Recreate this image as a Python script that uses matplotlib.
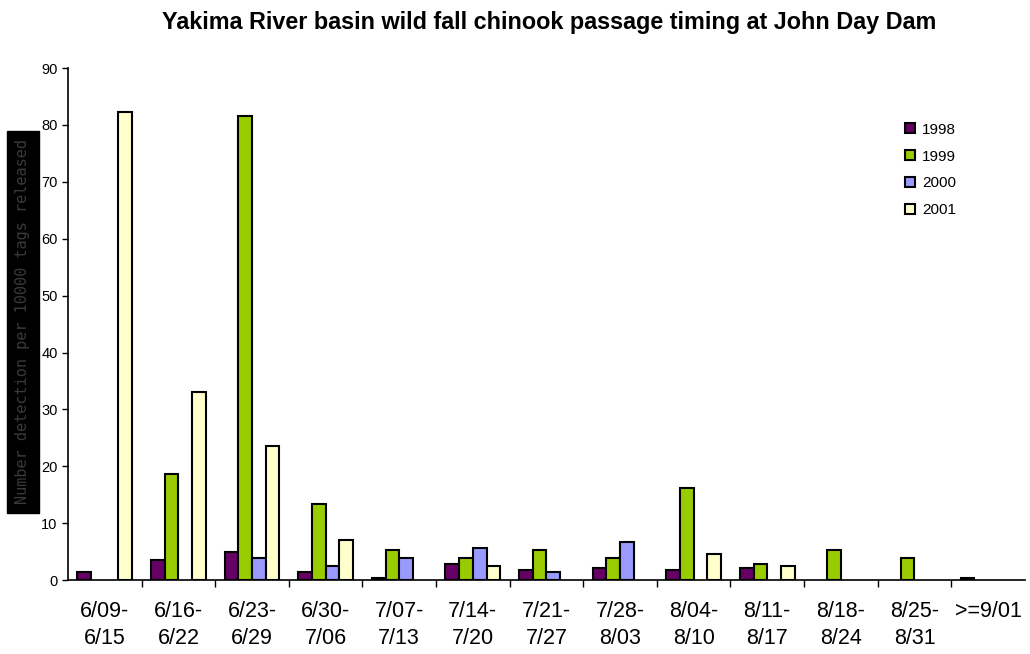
import matplotlib
matplotlib.use("Agg")
import matplotlib.pyplot as plt
import numpy as np

plt.rcParams['font.family'] = ['Liberation Sans', 'DejaVu Sans']

categories = ["6/09-\n6/15", "6/16-\n6/22", "6/23-\n6/29", "6/30-\n7/06", "7/07-\n7/13",
              "7/14-\n7/20", "7/21-\n7/27", "7/28-\n8/03", "8/04-\n8/10", "8/11-\n8/17",
              "8/18-\n8/24", "8/25-\n8/31", ">=9/01"]
series_names = ["1998", "1999", "2000", "2001"]
v1998 = [1.4, 3.5, 4.9, 1.4, 0.4, 2.8, 1.8, 2.2, 1.8, 2.2, 0, 0, 0.4]
v1999 = [0, 18.6, 81.5, 13.4, 5.3, 3.9, 5.3, 3.9, 16.2, 2.8, 5.3, 3.9, 0]
v2000 = [0, 0, 3.9, 2.4, 3.9, 5.7, 1.35, 6.7, 0, 0, 0, 0, 0]
v2001 = [82.2, 33.0, 23.5, 7.0, 0, 2.4, 0, 0, 4.6, 2.4, 0, 0, 0]
colors = ["#660066", "#99cc00", "#9999ff", "#ffffcc"]
yticks = list(range(0, 91, 10))

fig = plt.figure(figsize=(10.3, 6.54), dpi=100)
ax = fig.add_axes([0.066, 0.113, 0.929, 0.783])

x = np.arange(len(categories))
w = 0.186
for i, (vals, c, name) in enumerate(zip([v1998, v1999, v2000, v2001], colors, series_names)):
    vals = np.array(vals, dtype=float)
    m = vals > 0
    ax.bar(x[m] + (i - 1.5) * w, vals[m], width=w, color=c, edgecolor="black", linewidth=1.5,
           label=name, zorder=3)

ax.set_xlim(-0.5, len(categories) - 0.5)
ax.set_ylim(0, 90)
ax.set_yticks(yticks)
ax.tick_params(axis='y', labelsize=10.5, direction='out', length=4, width=1)
ax.set_xticks(x)
ax.set_xticklabels(categories, fontsize=15.5, linespacing=1.4)
ax.tick_params(axis='x', length=0, pad=15)
ax.set_xticks(np.arange(0.5, len(categories) - 0.5, 1), minor=True)
ax.tick_params(axis='x', which='minor', direction='out', length=5, width=1)
for s in ["top", "right"]:
    ax.spines[s].set_visible(False)
ax.spines["left"].set_linewidth(1.2)
ax.spines["bottom"].set_linewidth(1.2)

fig.text(0.533, 0.966, "Yakima River basin wild fall chinook passage timing at John Day Dam",
         ha="center", va="center", fontsize=16.8, fontweight="bold")

fig.text(0.022, 0.508, "Number detection per 10000 tags released", rotation=90,
         ha="center", va="center", fontsize=11, color="#3a3a3a", family="DejaVu Sans Mono",
         bbox=dict(facecolor="black", edgecolor="black", pad=6))

leg = ax.legend(loc="upper left", bbox_to_anchor=(0.86, 0.92), frameon=False, fontsize=11,
                handlelength=0.65, handleheight=0.65, handletextpad=0.5, labelspacing=0.84)
for h in leg.legend_handles:
    h.set_linewidth(1.5)

fig.savefig("out.png", dpi=100)
